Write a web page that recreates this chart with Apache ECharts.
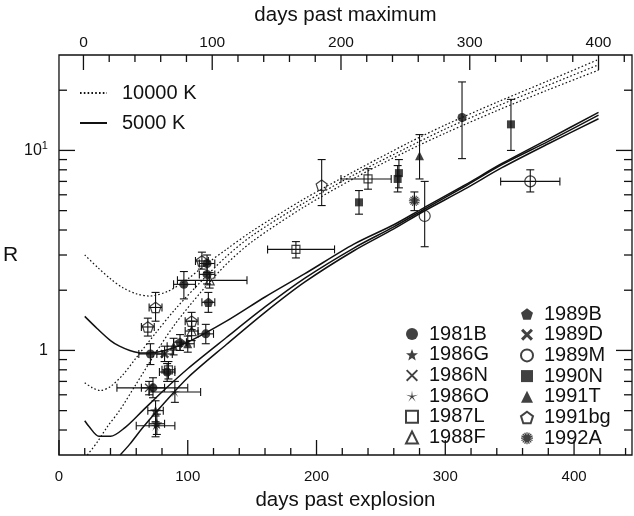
<!DOCTYPE html>
<html><head><meta charset="utf-8">
<script src="https://cdn.jsdelivr.net/npm/echarts@6/dist/echarts.min.js"></script>
<style>html,body{margin:0;padding:0;background:#fff}#c{width:634px;height:516px}</style>
</head><body><div id="c"></div>
<script>
// ---------- data (days past explosion, R) ----------
const OFFSET_MAX = 19; // days past maximum = days past explosion - 19
const xMajorTicks = [0, 100, 200, 300, 400];
const topMajorTicks = [0, 100, 200, 300, 400];
const yLabelTicks = [1, 10];
const yMinorTicks = [0.4,0.5,0.6,0.7,0.8,0.9,2,3,4,5,6,7,8,9,20];

// model curves, 10000 K (dotted)
const d1 = [[20,3.0],[30,2.6],[40,2.28],[50,2.05],[60,1.92],[70,1.87],[85,1.98],[100,2.28],[115,2.72],[130,3.2],[150,3.95],[190,5.7],[230,7.9],[270,10.8],[300,13.4],[340,17.4],[380,22.3],[419,28.5]];
const d2 = [[20,0.69],[26,0.65],[32,0.63],[40,0.66],[50,0.76],[60,0.92],[75,1.22],[90,1.6],[110,2.2],[130,2.95],[150,3.75],[190,5.45],[230,7.6],[270,10.3],[300,12.8],[340,16.6],[380,21.2],[419,26.8]];
const d3 = [[22,0.30],[30,0.35],[37.5,0.415],[47,0.5],[60,0.68],[75,0.97],[90,1.35],[110,1.95],[130,2.7],[150,3.5],[190,5.2],[230,7.3],[270,9.9],[300,12.2],[340,15.8],[380,20.1],[419,25.2]];
// model curves, 5000 K (solid)
const s1 = [[20,1.48],[30,1.28],[40,1.12],[47,1.05],[55,1.0],[65,0.97],[80,0.99],[100,1.1],[130,1.4],[160,1.85],[191,2.42],[229,3.4],[260,4.25],[283,5.15],[315,6.7],[344,8.6],[380,11.4],[419,15.5]];
const s2 = [[20,0.445],[23.5,0.415],[31,0.372],[40,0.372],[51,0.41],[65,0.5],[80,0.62],[100,0.81],[130,1.16],[160,1.65],[191,2.3],[229,3.25],[260,4.15],[283,5.05],[315,6.6],[344,8.5],[380,11.1],[419,15.0]];
const s3 = [[47.5,0.30],[55,0.34],[65.6,0.415],[80,0.53],[100,0.73],[130,1.07],[160,1.55],[191,2.2],[229,3.15],[260,4.05],[283,4.95],[315,6.4],[344,8.2],[380,10.8],[419,14.4]];

// observations: [day, R, dayLo, dayHi, RLo, RHi]
const sn1981B = [[71,0.96,62,80,0.85,1.08],[73,0.65,64,82,0.58,0.73],[97,2.14,89,106,1.81,2.48],[115,2.72,109,121,2.45,3.0],[115,2.4,109,121,2.15,2.7],[114,1.21,108,120,1.08,1.35],[84,0.78,78,90,0.7,0.86],[313,14.6,313,313,9.1,22]];
const sn1986G = [[75,0.5,69,81,0.44,0.56],[76,0.43,70,82,0.38,0.48]];
const sn1986N = [[70,0.65,45,100,0.6,0.7]];
const sn1986O = [[75,0.42,60,90,0.37,0.47],[90,0.62,70,110,0.55,0.7]];
const sn1987L = [[184,3.2,162,214,2.9,3.5],[240,7.2,219,258,6.4,8.1],[85,0.8,80,90,0.72,0.88]];
const sn1988F = [[117,2.24,92,146,2.05,2.45],[103,1.25,98,108,1.12,1.4]];
const sn1989B = [[116,1.74,111,121,1.55,1.95],[94,1.1,89,99,1.0,1.2]];
const sn1989D = [[82,0.96,76,88,0.88,1.05]];
const sn1989M = [[284,4.7,284,284,3.3,7.0],[366,7.0,343,389,6.2,8.0]];
const sn1990N = [[233,5.5,233,233,4.8,6.3],[264,7.7,264,264,6.5,9.0],[263,7.2,263,263,6.2,8.4],[351,13.5,351,351,10,18]];
const sn1991T = [[280,9.4,280,280,7.2,12],[89,1.05,84,94,0.95,1.15],[100,1.08,95,105,0.98,1.18]];
const sn1991bg = [[75,1.64,70,80,1.4,1.95],[69,1.31,64,74,1.18,1.45],[103,1.4,98,108,1.27,1.55],[111,2.8,106,116,2.55,3.1],[204,6.7,204,204,5.3,9.0]];
const sn1992A = [[276,5.6,276,276,5.0,6.2]];

// ---------- symbols ----------
function poly(n, r1, r2, rot) {
  const pts = [];
  const m = r2 == null ? n : 2 * n;
  for (let i = 0; i < m; i++) {
    const r = (r2 == null || i % 2 === 0) ? r1 : r2;
    const a = rot + i * Math.PI * 2 / m;
    pts.push((50 + r * 50 * Math.cos(a)).toFixed(2) + ' ' + (50 + r * 50 * Math.sin(a)).toFixed(2));
  }
  return 'M' + pts.join(' L') + ' Z';
}
function arms(angles, hw) {
  let p = '';
  angles.forEach(function (deg) {
    const a = deg * Math.PI / 180, c = Math.cos(a), s = Math.sin(a);
    const pts = [[-50, -hw], [50, -hw], [50, hw], [-50, hw]].map(function (q) {
      return (50 + q[0] * c - q[1] * s).toFixed(2) + ' ' + (50 + q[0] * s + q[1] * c).toFixed(2);
    });
    p += 'M' + pts.join(' L') + ' Z ';
  });
  return p;
}
const UP = -Math.PI / 2;
const SYM = {
  star: 'path://' + poly(5, 1, 0.42, UP),
  thinStar: 'path://' + poly(5, 1, 0.18, UP),
  cross: 'path://' + arms([45, 135], 6),
  boldCross: 'path://' + arms([45, 135], 11) + poly(4, 0.25, null, 0),
  pent: 'path://' + poly(5, 1, null, UP),
  aster: 'path://' + arms([0, 22.5, 45, 67.5, 90, 112.5, 135, 157.5], 5)
};

const K = '#111';
const snDefs = [
  ['1981B', sn1981B, 'circle', 9, K, false],
  ['1986G', sn1986G, SYM.star, 11, K, false],
  ['1986N', sn1986N, SYM.cross, 9, K, false],
  ['1986O', sn1986O, SYM.thinStar, 11, K, false],
  ['1987L', sn1987L, 'rect', 8, K, true],
  ['1988F', sn1988F, 'triangle', 9, K, true],
  ['1989B', sn1989B, SYM.pent, 10, K, false],
  ['1989D', sn1989D, SYM.boldCross, 9, K, false],
  ['1989M', sn1989M, 'circle', 11, K, true],
  ['1990N', sn1990N, 'rect', 8, K, false],
  ['1991T', sn1991T, 'triangle', 9, K, false],
  ['1991bg', sn1991bg, SYM.pent, 11, K, true],
  ['1992A', sn1992A, SYM.aster, 11, K, false]
];

const FONT = '"Liberation Sans", Arial, Helvetica, sans-serif';
const X_MAX = 445, Y_MIN = 0.3, Y_MAX = 30;

const series = [];
function lineSeries(name, data, dotted) {
  series.push({
    name: name, type: 'line', data: data, symbol: 'none', showSymbol: false, smooth: 0.3,
    xAxisIndex: 0, yAxisIndex: 0, z: 2, silent: true,
    itemStyle: { color: K, opacity: 0 },
    lineStyle: { color: K, width: dotted ? 1.2 : 1.5, type: dotted ? [1.6, 2.2] : 'solid' }
  });
}
lineSeries('10000 K', d1, true);
lineSeries('10000 K', d2, true);
lineSeries('10000 K', d3, true);
lineSeries('5000 K', s1, false);
lineSeries('5000 K', s2, false);
lineSeries('5000 K', s3, false);

// error bars
const allObs = [];
snDefs.forEach(function (d) { d[1].forEach(function (p) { allObs.push(p); }); });
series.push({
  type: 'custom', xAxisIndex: 0, yAxisIndex: 0, z: 3, silent: true,
  data: allObs,
  renderItem: function (params, api) {
    const x = api.value(0), y = api.value(1), x0 = api.value(2), x1 = api.value(3), y0 = api.value(4), y1 = api.value(5);
    const c = api.coord([x, y]);
    const cx0 = api.coord([x0, y])[0], cx1 = api.coord([x1, y])[0];
    const cy0 = api.coord([x, y0])[1], cy1 = api.coord([x, y1])[1];
    const cap = 4, ch = [];
    const st = { stroke: K, lineWidth: 1.1 };
    if (cx1 - cx0 > 1) {
      ch.push({ type: 'line', shape: { x1: cx0, y1: c[1], x2: cx1, y2: c[1] }, style: st });
      ch.push({ type: 'line', shape: { x1: cx0, y1: c[1] - cap, x2: cx0, y2: c[1] + cap }, style: st });
      ch.push({ type: 'line', shape: { x1: cx1, y1: c[1] - cap, x2: cx1, y2: c[1] + cap }, style: st });
    }
    if (cy0 - cy1 > 1) {
      ch.push({ type: 'line', shape: { x1: c[0], y1: cy0, x2: c[0], y2: cy1 }, style: st });
      ch.push({ type: 'line', shape: { x1: c[0] - cap, y1: cy0, x2: c[0] + cap, y2: cy0 }, style: st });
      ch.push({ type: 'line', shape: { x1: c[0] - cap, y1: cy1, x2: c[0] + cap, y2: cy1 }, style: st });
    }
    return { type: 'group', children: ch };
  }
});

snDefs.forEach(function (d) {
  series.push({
    name: d[0], type: 'scatter', data: d[1].map(function (p) { return [p[0], p[1]]; }),
    xAxisIndex: 0, yAxisIndex: 0, z: 5, symbol: d[2], symbolSize: d[3], symbolKeepAspect: true,
    itemStyle: d[5] ? { color: 'rgba(255,255,255,0)', borderColor: K, borderWidth: 1.2 } : { color: K, borderWidth: 0 }
  });
});

// ticks on all four sides
const xMinor = [], topMinor = [];
for (let v = 20; v <= 440; v += 20) if (v % 100) xMinor.push(v);
for (let v = 20; v <= 420; v += 20) if (v % 100) topMinor.push(v);
const tickItems = [];
xMajorTicks.forEach(function (v) { tickItems.push(['b', v, 15]); });
xMinor.forEach(function (v) { tickItems.push(['b', v, 7]); });
topMajorTicks.forEach(function (v) { tickItems.push(['t', v + OFFSET_MAX, 15]); });
topMinor.forEach(function (v) { tickItems.push(['t', v + OFFSET_MAX, 7]); });
yLabelTicks.forEach(function (v) { tickItems.push(['l', v, 16]); tickItems.push(['r', v, 16]); });
yMinorTicks.forEach(function (v) { tickItems.push(['l', v, 8]); tickItems.push(['r', v, 8]); });
series.push({
  type: 'custom', xAxisIndex: 0, yAxisIndex: 0, z: 6, silent: true, clip: false,
  data: tickItems.map(function (t, i) { return [i]; }),
  renderItem: function (params, api) {
    const t = tickItems[params.dataIndex];
    const st = { stroke: K, lineWidth: 1.3 };
    const cs = params.coordSys;
    if (t[0] === 'b' || t[0] === 't') {
      const x = api.coord([t[1], 1])[0];
      const yb = t[0] === 'b' ? cs.y + cs.height : cs.y;
      const dy = t[0] === 'b' ? -t[2] : t[2];
      return { type: 'line', shape: { x1: x, y1: yb, x2: x, y2: yb + dy }, style: st };
    }
    const y = api.coord([10, t[1]])[1];
    const xb = t[0] === 'l' ? cs.x : cs.x + cs.width;
    const dx = t[0] === 'l' ? t[2] : -t[2];
    return { type: 'line', shape: { x1: xb, y1: y, x2: xb + dx, y2: y }, style: st };
  }
});

const col1 = snDefs.slice(0, 6).map(function (d) { return d[0]; });
const col2 = snDefs.slice(6).map(function (d) { return d[0]; });
const legText = { fontFamily: FONT, fontSize: 20, color: K, lineHeight: 20, padding: [0, 0, 0, 6] };

const option = {
  animation: false,
  backgroundColor: '#fff',
  grid: { left: 51, right: 2, top: 53, bottom: 47, show: true, borderColor: K, borderWidth: 1.3, backgroundColor: 'transparent' },
  xAxis: [
    { type: 'value', position: 'bottom', min: 0, max: X_MAX, interval: 100,
      axisLine: { show: false }, axisTick: { show: false }, splitLine: { show: false },
      axisLabel: { show: true, showMaxLabel: false, margin: 14, fontFamily: FONT, fontSize: 15, color: K },
      name: 'days past explosion', nameLocation: 'middle', nameGap: 35,
      nameTextStyle: { fontFamily: FONT, fontSize: 20.5, color: K } },
    { type: 'value', position: 'top', min: -OFFSET_MAX, max: X_MAX - OFFSET_MAX,
      axisLine: { show: false }, axisTick: { show: false }, splitLine: { show: false },
      axisLabel: { show: true, customValues: topMajorTicks, margin: 4, fontFamily: FONT, fontSize: 15.5, color: K },
      name: 'days past maximum', nameLocation: 'middle', nameGap: 29,
      nameTextStyle: { fontFamily: FONT, fontSize: 20.5, color: K } }
  ],
  yAxis: [
    { type: 'log', logBase: 10, min: Y_MIN, max: Y_MAX,
      axisLine: { show: false }, axisTick: { show: false }, splitLine: { show: false },
      axisLabel: { showMinLabel: false, showMaxLabel: false, margin: 11, fontFamily: FONT, fontSize: 16, color: K,
        formatter: function (v) { if (Math.abs(v - 1) < 1e-6) return '1'; if (Math.abs(v - 10) < 1e-6) return '10{s|1}'; return ''; },
        rich: { s: { fontSize: 11, verticalAlign: 'top', padding: [0, 0, 9, 0], fontFamily: FONT, color: K } } },
      name: 'R', nameLocation: 'middle', nameGap: 34, nameRotate: 0,
      nameTextStyle: { fontFamily: FONT, fontSize: 21, color: K } }
  ],
  legend: [
    { data: ['10000 K', '5000 K'], orient: 'vertical', left: 74, top: 78, itemWidth: 27, itemHeight: 10, itemGap: 10,
      itemStyle: { opacity: 0 },
      textStyle: Object.assign({}, legText, { padding: [0, 0, 0, 10] }), selectedMode: false },
    { data: col1, orient: 'vertical', left: 400, top: 319, itemWidth: 12, itemHeight: 12, itemGap: 0.7, textStyle: legText, selectedMode: false },
    { data: col2, orient: 'vertical', left: 515, top: 299, itemWidth: 12, itemHeight: 12, itemGap: 0.7, textStyle: legText, selectedMode: false }
  ],
  series: series
};
const chart = echarts.init(document.getElementById('c'), null, { renderer: 'canvas' });
chart.setOption(option);
</script></body></html>
